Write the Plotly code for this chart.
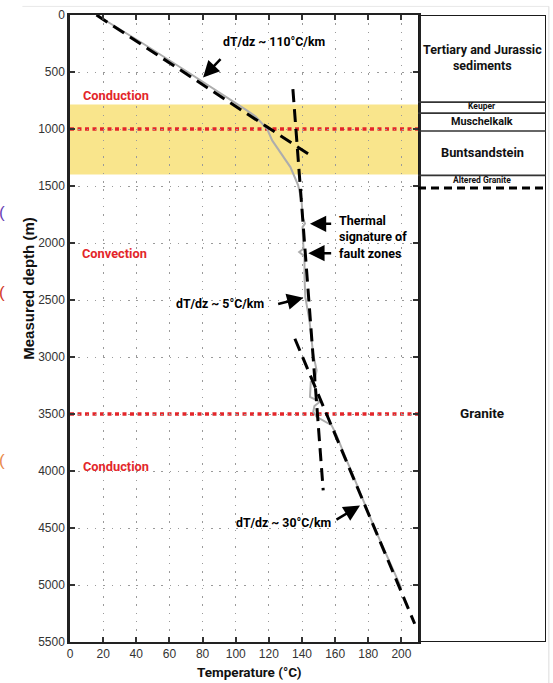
import plotly.graph_objects as go

# ---------------- data ----------------
temp_measured = [16, 44, 71, 99, 106, 112, 116, 119, 122, 127.5, 133, 137.7, 139.7, 140.5,
                 141.8, 140.3, 140.7, 140.9, 138.3, 141.5, 141.5, 142, 144.5, 146.7, 148.8,
                 147.8, 145.3, 144.8, 150.8, 147.5, 146.8, 148.8, 157.8, 160.8, 166.9, 170,
                 184, 199, 200]
depth_measured = [0, 250, 500, 760, 830, 890, 950, 1000, 1100, 1217, 1334, 1495, 1625, 1780,
                  1830, 1860, 2000, 2050, 2079, 2117, 2300, 2475, 2680, 2970, 3116,
                  3204, 3218, 3350, 3393, 3430, 3481, 3525, 3598, 3685, 3905, 4010,
                  4507, 5004, 5030]

fit_top_T = [16, 145]
fit_top_z = [0, 1230]
fit_conv_T = [134.5, 152.8]
fit_conv_z = [650, 4170]
fit_bot_T = [135.7, 208]
fit_bot_z = [2840, 5340]

x_ticks = list(range(0, 201, 20))
y_ticks = list(range(0, 5501, 500))

yellow_band = [785, 1400]
regime_bounds = [1000, 3500]

strat_solid_bounds = [764, 861, 1018, 1407]
strat_dashed_bounds = [1518]
strat_names = ["Tertiary and Jurassic<br>sediments", "Keuper", "Muschelkalk",
               "Buntsandstein", "Altered Granite", "Granite"]
strat_label_depths = [377, 800, 934, 1203, 1445, 3488]

regime_labels = ["Conduction", "Convection", "Conduction"]
regime_label_T = [27.6, 27, 27.5]
regime_label_z = [706, 2089, 3957]

# ---------------- styles ----------------
NARROW = "Roboto, Liberation Sans, sans-serif"
REG = "Liberation Sans, Arial, sans-serif"
strat_sizes = [12.5, 8.5, 10.8, 12.8, 8.5, 13.5]


def nfont(size, color="black"):
    return dict(family=NARROW, size=size, color=color, weight="bold")


fig = go.Figure()

fig.add_trace(go.Scatter(x=temp_measured, y=depth_measured, mode="lines",
                         line=dict(color="#adadad", width=2), xaxis="x", yaxis="y",
                         showlegend=False, hoverinfo="skip"))
for tx, tz in [(fit_top_T, fit_top_z), (fit_conv_T, fit_conv_z), (fit_bot_T, fit_bot_z)]:
    fig.add_trace(go.Scatter(x=tx, y=tz, mode="lines",
                             line=dict(color="black", width=3, dash="13px,7px"),
                             xaxis="x", yaxis="y", showlegend=False, hoverinfo="skip"))

shapes = []
shapes.append(dict(type="rect", xref="x domain", yref="y", x0=0, x1=1,
                   y0=yellow_band[0], y1=yellow_band[1], fillcolor="#f9e58c",
                   line=dict(width=0), layer="below"))
for zb in regime_bounds:
    shapes.append(dict(type="line", xref="x domain", yref="y", x0=0, x1=1, y0=zb, y1=zb,
                       line=dict(color="#e3262a", width=3.5, dash="4px,3.5px"), layer="below"))
shapes.append(dict(type="rect", xref="x2", yref="y2", x0=0, x1=1, y0=0, y1=5500,
                   line=dict(color="#1a1a1a", width=2), fillcolor="rgba(0,0,0,0)"))
for zb in strat_solid_bounds:
    shapes.append(dict(type="line", xref="x2", yref="y2", x0=0, x1=1, y0=zb, y1=zb,
                       line=dict(color="#333333", width=1.6)))
for zb in strat_dashed_bounds:
    shapes.append(dict(type="line", xref="x2", yref="y2", x0=0, x1=1, y0=zb, y1=zb,
                       line=dict(color="black", width=3, dash="8px,5px")))
shapes.append(dict(type="line", xref="paper", yref="paper", x0=-0.1, x1=1.006,
                   y0=1.0137, y1=1.0137, line=dict(color="#e8e8e8", width=1)))
shapes.append(dict(type="line", xref="paper", yref="paper", x0=1.006, x1=1.006,
                   y0=1.0137, y1=-0.07, line=dict(color="#dcdcdc", width=1)))

ann = []
for t, tx, tz in zip(regime_labels, regime_label_T, regime_label_z):
    ann.append(dict(x=tx, y=tz, xref="x", yref="y", text=t, showarrow=False,
                    font=nfont(12.8, "#e3262a")))
ann.append(dict(x=123, y=239, xref="x", yref="y", text="dT/dz ~ 110°C/km", showarrow=False,
                font=nfont(12.3)))
ann.append(dict(x=90.5, y=2539, xref="x", yref="y", text="dT/dz ~ 5°C/km", showarrow=False,
                font=nfont(12.3)))
ann.append(dict(x=128.7, y=4456, xref="x", yref="y", text="dT/dz ~ 30°C/km", showarrow=False,
                font=nfont(12.3)))
ann.append(dict(x=161.4, y=1945, xref="x", yref="y", xanchor="left", align="left",
                text="Thermal<br>signature of<br>fault zones", showarrow=False,
                font=nfont(12.5)))
arrows = [((91.7, 373), (80.3, 548)), ((124.7, 2539), (140.8, 2480)),
          ((158.5, 1832), (144.8, 1832)), ((158.5, 2089), (143.8, 2089)),
          ((159.9, 4434), (175, 4303))]
for (tx, tz), (hx, hz) in arrows:
    ann.append(dict(x=hx, y=hz, ax=tx, ay=tz, xref="x", yref="y", axref="x", ayref="y",
                    text="", showarrow=True, arrowhead=2, arrowsize=1.3, arrowwidth=2.5,
                    arrowcolor="black", standoff=0))
for name, zd, fs in zip(strat_names, strat_label_depths, strat_sizes):
    ann.append(dict(x=0.5, y=zd, xref="x2", yref="y2", text=name, showarrow=False,
                    font=nfont(fs, "#111")))
ann.append(dict(x=-41 / 348 * 0.7311, y=0.565, xref="paper", yref="paper",
                xanchor="center", yanchor="middle", text="Measured depth (m)",
                textangle=-90, showarrow=False,
                font=dict(family=REG, size=15, color="#111", weight="bold")))
ann.append(dict(x=(249 - 70) / 476, y=(641.7 - 672) / 626.7, xref="paper",
                yref="paper", xanchor="center", yanchor="middle",
                text="Temperature (°C)", showarrow=False, font=nfont(13.5, "#111")))
for yc, col in [(212, "#6a3fb5"), (292, "#d2382a"), (460, "#e8884a")]:
    ann.append(dict(x=(2 - 70) / 476, y=(641.7 - yc) / 626.7, xref="paper", yref="paper",
                    xanchor="center", yanchor="middle",
                    text="(", showarrow=False, font=dict(family=REG, size=17, color=col)))

fig.update_layout(
    width=553, height=683, autosize=False,
    margin=dict(l=70, r=7, t=15, b=41.3, pad=0),
    paper_bgcolor="white", plot_bgcolor="white",
    xaxis=dict(domain=[0, 0.7311], range=[0, 210], tickvals=x_ticks, ticks="inside",
               ticklen=5, tickwidth=1.5, tickcolor="#333", showline=True, linewidth=2,
               linecolor="#222", mirror="ticks", showgrid=True, gridcolor="#9a9a9a",
               gridwidth=1.3, griddash="1.5px,6.8px", zeroline=False,
               tickfont=dict(family=REG, size=12, color="#333"), anchor="y"),
    yaxis=dict(range=[5500, 0], tickvals=y_ticks, ticks="inside", ticklen=5, tickwidth=1.5,
               tickcolor="#333", showline=True, linewidth=2.5, linecolor="#222",
               mirror="ticks", showgrid=True, gridcolor="#9a9a9a", gridwidth=1.3,
               griddash="1.5px,6.8px", zeroline=False,
               tickfont=dict(family=REG, size=12, color="#333"), anchor="x"),
    xaxis2=dict(domain=[0.7311, 1], range=[0, 1], visible=False, anchor="y2"),
    yaxis2=dict(range=[5500, 0], visible=False, anchor="x2", domain=[0, 1]),
    shapes=shapes, annotations=ann,
)

fig.write_html("out.html")
